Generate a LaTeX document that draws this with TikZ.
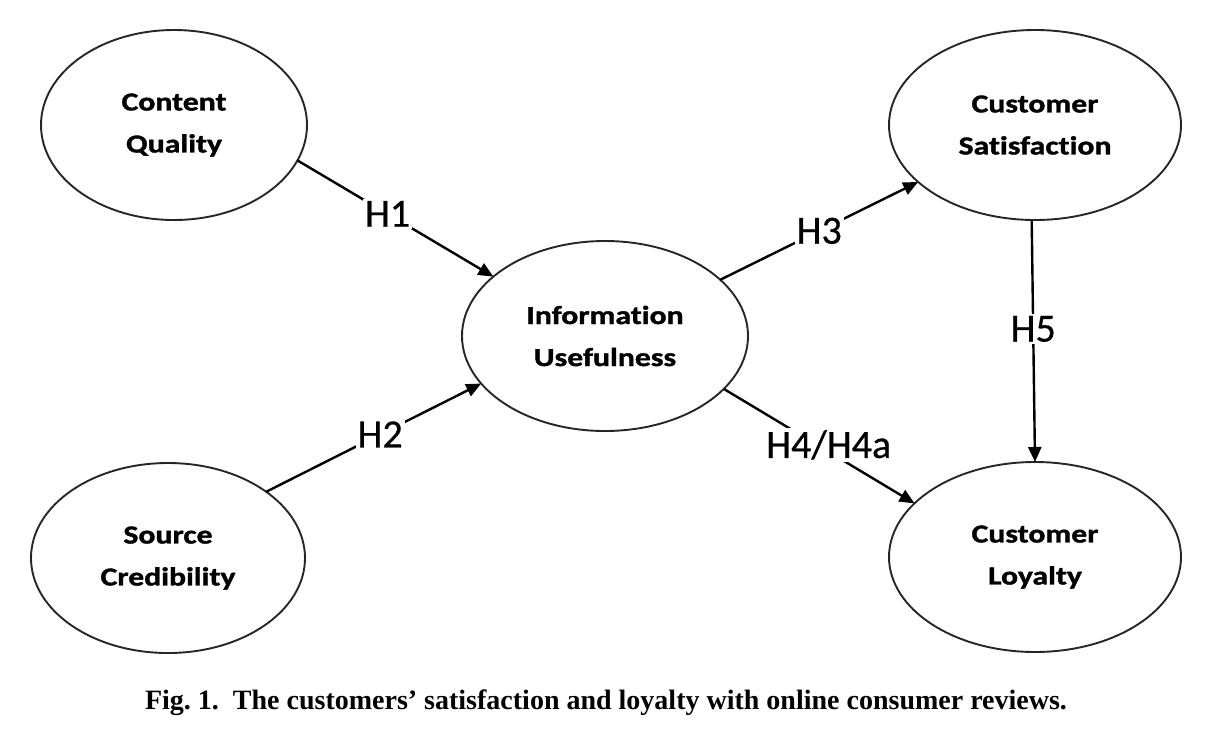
\documentclass[tikz,border=0pt]{standalone}
\usepackage{fontspec}
\setmainfont{Liberation Serif}
\newfontfamily\nodefont[FakeStretch=1.22, Ligatures=NoCommon, BoldFeatures={FakeBold=1.3}]{Carlito}
\newfontfamily\labfont[FakeBold=0.6]{Carlito}
\usetikzlibrary{shapes.geometric,arrows.meta}
\begin{document}
\begin{tikzpicture}[x=1pt,y=-1pt,
  construct/.style={draw=black!85, ellipse, line width=1.9pt, inner sep=0pt, outer sep=0pt,
    minimum width=#1, minimum height=190pt, align=center,
    font=\nodefont\fontsize{26}{42}\selectfont\bfseries},
  construct/.default=290pt,
  link/.style={line width=2.4pt, -{Triangle[length=15pt,width=13pt]}},
  hyp/.style={fill=white, inner sep=2pt, font=\labfont\fontsize{40}{42}\selectfont}
]
\useasboundingbox (0,0) rectangle (1231,732);
\node[construct=266pt] (cq) at (174,125) {Content\\Quality};
\node[construct=274pt] (sc) at (168,558) {Source\\Credibility};
\node[construct=286pt] (iu) at (605,336) {Information\\Usefulness};
\node[construct=292pt] (cs) at (1035,125) {Customer\\Satisfaction};
\node[construct=292pt] (cl) at (1035,557) {Customer\\Loyalty};

\draw[link] (cq.-16.3) -- node[hyp, pos=0.46] {H1} (iu.152.8);
\draw[link] (sc.34.1) -- node[hyp, pos=0.53] {H2} (iu.201.6);
\draw[link] (iu.26.6) -- node[hyp, pos=0.50] {H3} (cs.206);
\draw[link] (iu.-24.8) -- node[hyp, pos=0.55, yshift=7pt] {H4/H4a} (cl.156);
\draw[link] (cs.-92.4) -- node[hyp, pos=0.45] {H5} (cl.90);

\node[font=\fontsize{28}{32}\selectfont\bfseries] (cap) at (606,703)
  {Fig.~1.\ \ The customers’ satisfaction and loyalty with online consumer reviews.};
\end{tikzpicture}
\end{document}
